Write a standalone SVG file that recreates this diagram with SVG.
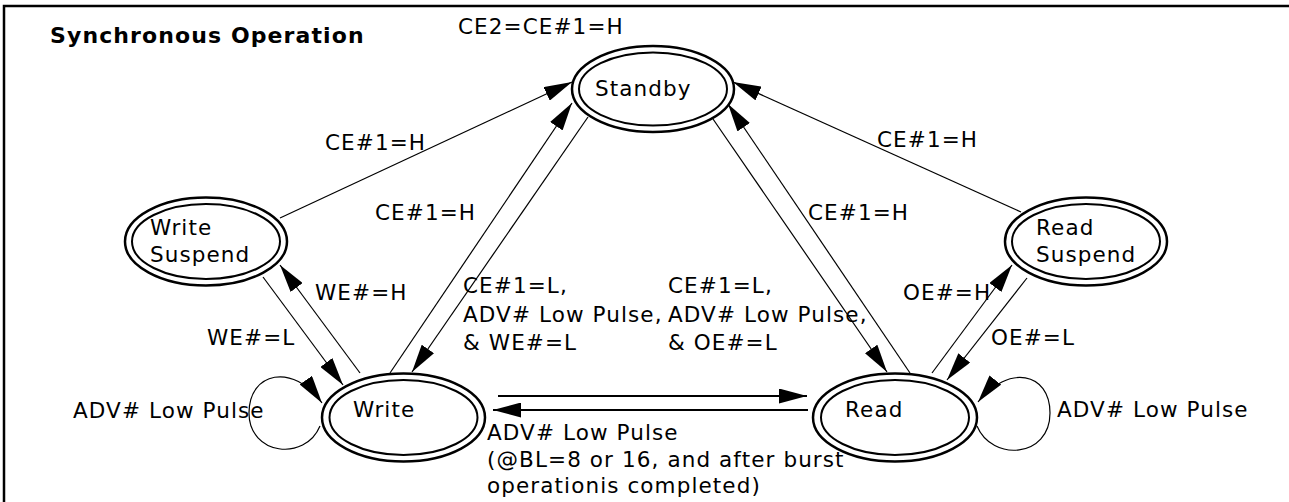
<svg xmlns="http://www.w3.org/2000/svg" width="1289" height="502" viewBox="0 0 1289 502">
<style>
.t{font-family:"DejaVu Sans",Verdana,sans-serif;font-size:21.5px;letter-spacing:1.1px;fill:#000}
.b{font-family:"DejaVu Sans",Verdana,sans-serif;font-size:22px;font-weight:bold;letter-spacing:1.1px;fill:#000}
.o{fill:#fff;stroke:#000;stroke-width:2.5}
.i{fill:none;stroke:#000;stroke-width:2}
.c{fill:none;stroke:#000;stroke-width:1.2}
.h{fill:none;stroke:#000;stroke-width:2.2}
</style>
<defs>
<marker id="ah" markerUnits="userSpaceOnUse" markerWidth="28" markerHeight="15" viewBox="0 0 28 15" refX="28" refY="7.5" orient="auto">
<path d="M0,0 L28,7.5 L0,15 z" fill="#000"/>
</marker>
</defs>
<rect width="1289" height="502" fill="#fff"/>
<path d="M4,510 V6 H1300" fill="none" stroke="#000" stroke-width="2.5"/>
<text class="b" x="50" y="43">Synchronous Operation</text>
<text class="t" x="458" y="34">CE2=CE#1=H</text>

<g id="connectors">
<line class="c" x1="280" y1="218" x2="572" y2="82" marker-end="url(#ah)"/>
<line class="c" x1="390" y1="373" x2="572" y2="103" marker-end="url(#ah)"/>
<line class="c" x1="588" y1="117" x2="412" y2="372" marker-end="url(#ah)"/>
<line class="c" x1="263" y1="277" x2="343" y2="385" marker-end="url(#ah)"/>
<line class="c" x1="360" y1="373" x2="280" y2="265" marker-end="url(#ah)"/>
<line class="h" x1="498" y1="396" x2="807" y2="396" marker-end="url(#ah)"/>
<line class="h" x1="808" y1="410" x2="493" y2="410" marker-end="url(#ah)"/>
<line class="c" x1="713" y1="119" x2="887" y2="372" marker-end="url(#ah)"/>
<line class="c" x1="910" y1="373" x2="728" y2="104" marker-end="url(#ah)"/>
<line class="c" x1="1021" y1="212" x2="733" y2="82" marker-end="url(#ah)"/>
<line class="c" x1="932" y1="373" x2="1012" y2="265" marker-end="url(#ah)"/>
<line class="c" x1="1027" y1="278" x2="947" y2="380" marker-end="url(#ah)"/>
<path class="c" d="M320,426 C305,462 249,455 249,413 C249,372 293,362 322,403" marker-end="url(#ah)"/>
<path class="c" d="M977,426 C992,462 1050,458 1050,413 C1050,372 1008,364 978,402" marker-end="url(#ah)"/>
<text class="t" x="325" y="150">CE#1=H</text>
<text class="t" x="375" y="220">CE#1=H</text>
<text class="t" x="808" y="220">CE#1=H</text>
<text class="t" x="877" y="147">CE#1=H</text>
<text class="t" x="315" y="300">WE#=H</text>
<text class="t" x="207" y="345">WE#=L</text>
<text class="t" x="903" y="300">OE#=H</text>
<text class="t" x="991" y="345">OE#=L</text>
<text class="t" x="463" y="293">CE#1=L,<tspan x="463" dy="28.5">ADV# Low Pulse,</tspan><tspan x="463" dy="28.5">&amp; WE#=L</tspan></text>
<text class="t" x="668" y="293">CE#1=L,<tspan x="668" dy="28.5">ADV# Low Pulse,</tspan><tspan x="668" dy="28.5">&amp; OE#=L</tspan></text>
<text class="t" x="487" y="440">ADV# Low Pulse<tspan x="487" dy="27">(@BL=8 or 16, and after burst</tspan><tspan x="487" dy="26">operationis completed)</tspan></text>
<text class="t" x="73" y="418">ADV# Low Pulse</text>
<text class="t" x="1057" y="417">ADV# Low Pulse</text>
</g>

<g id="standby">
<ellipse class="o" cx="653" cy="89" rx="81" ry="43"/>
<ellipse class="i" cx="653" cy="89" rx="74" ry="36.5"/>
<text class="t" x="595" y="96">Standby</text>
</g>
<g id="write-suspend">
<ellipse class="o" cx="206" cy="241.5" rx="81" ry="44"/>
<ellipse class="i" cx="206" cy="241.5" rx="74" ry="37.5"/>
<text class="t" x="150" y="235">Write</text>
<text class="t" x="150" y="262">Suspend</text>
</g>
<g id="read-suspend">
<ellipse class="o" cx="1086" cy="241.5" rx="81" ry="44"/>
<ellipse class="i" cx="1086" cy="241.5" rx="74" ry="37.5"/>
<text class="t" x="1036" y="235">Read</text>
<text class="t" x="1036" y="262">Suspend</text>
</g>
<g id="write">
<ellipse class="o" cx="403.5" cy="417.5" rx="81.5" ry="44"/>
<ellipse class="i" cx="403.5" cy="417.5" rx="74" ry="37.5"/>
<text class="t" x="353" y="417">Write</text>
</g>
<g id="read">
<ellipse class="o" cx="895" cy="417.5" rx="82" ry="44"/>
<ellipse class="i" cx="895" cy="417.5" rx="74" ry="37.5"/>
<text class="t" x="845" y="417">Read</text>
</g>
</svg>
